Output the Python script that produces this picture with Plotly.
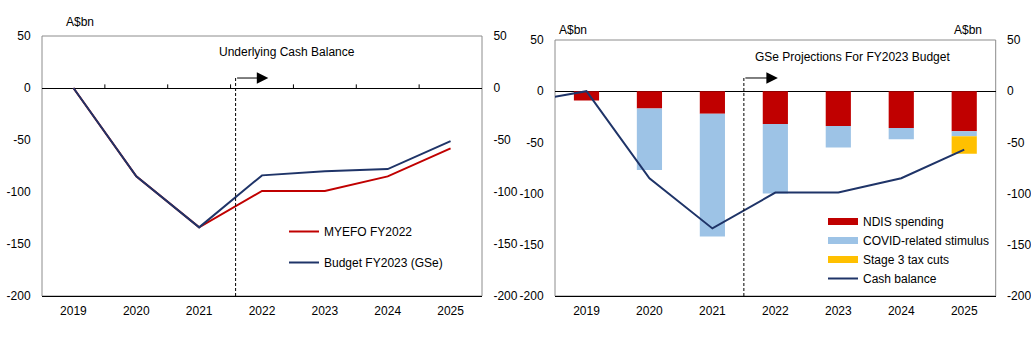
import plotly.graph_objects as go

# ---------------- data ----------------
years = [2019, 2020, 2021, 2022, 2023, 2024, 2025]
myefo_fy2022 = [0, -85, -134, -99, -99, -85, -58]
budget_fy2023 = [0, -85, -134, -84, -80, -78, -51]

cash_years = [2018, 2019, 2020, 2021, 2022, 2023, 2024, 2025]
cash_balance = [-11, 0, -85, -134, -99, -99, -85, -57]
ndis = [-9, -17, -22, -32, -34, -36, -39]
covid = [0, -60, -120, -68, -21, -11, -5]
stage3 = [0, 0, 0, 0, 0, 0, -17]

y_ticks = [50, 0, -50, -100, -150, -200]
y_tick_labels = ["50", "0", "-50", "-100", "-150", "-200"]

# ---------------- styling ----------------
W, H = 1031, 347
FONT = "Liberation Sans, Arial, sans-serif"
RED = "#C00000"
NAVY = "#1F3468"
LBLUE = "#9DC3E6"
GOLD = "#FFC000"
GREY = "#8C8C8C"


def px(xp):
    return xp / W


def py(yp):
    return 1 - yp / H


fig = go.Figure()

# left chart
fig.add_trace(go.Scatter(x=years, y=myefo_fy2022, mode="lines", name="MYEFO FY2022",
                         line=dict(color=RED, width=2), xaxis="x", yaxis="y",
                         legend="legend", legendgroup="a"))
fig.add_trace(go.Scatter(x=years, y=budget_fy2023, mode="lines", name="Budget FY2023 (GSe)",
                         line=dict(color=NAVY, width=2), xaxis="x", yaxis="y",
                         legend="legend", legendgroup="b"))

# right chart bars
fig.add_trace(go.Bar(x=years, y=ndis, name="NDIS spending", marker=dict(color=RED, line=dict(width=0)),
                     xaxis="x2", yaxis="y2", showlegend=False))
fig.add_trace(go.Bar(x=years, y=covid, name="COVID-related stimulus", marker=dict(color=LBLUE, line=dict(width=0)),
                     xaxis="x2", yaxis="y2", showlegend=False))
fig.add_trace(go.Bar(x=years, y=stage3, name="Stage 3 tax cuts", marker=dict(color=GOLD, line=dict(width=0)),
                     xaxis="x2", yaxis="y2", showlegend=False))
fig.add_trace(go.Scatter(x=cash_years, y=cash_balance, mode="lines", name="Cash balance",
                         line=dict(color=NAVY, width=2), xaxis="x2", yaxis="y2", showlegend=False))

# legend entries (wide swatches like the original)
for nm, col, w in [("NDIS spending", RED, 7), ("COVID-related stimulus", LBLUE, 7),
                   ("Stage 3 tax cuts", GOLD, 7), ("Cash balance", NAVY, 2)]:
    fig.add_trace(go.Scatter(x=[None], y=[None], mode="lines", name=nm,
                             line=dict(color=col, width=w), xaxis="x2", yaxis="y2",
                             legend="legend2"))

# empty traces so the right-hand mirrored value axes are rendered
for ya, xa in [("y3", "x"), ("y4", "x2")]:
    fig.add_trace(go.Scatter(x=[None], y=[None], mode="lines", xaxis=xa, yaxis=ya,
                             showlegend=False, hoverinfo="skip"))

tickfont = dict(family=FONT, size=12, color="black")

xcommon = dict(range=[2018.5, 2025.5], tickvals=years, ticks="", showgrid=False, zeroline=False,
               showline=True, linecolor="black", linewidth=1, tickfont=tickfont,
               ticklabelstandoff=4, fixedrange=True, automargin=False)
ycommon = dict(range=[-200, 50], tickvals=y_ticks, ticktext=y_tick_labels, showgrid=False,
               tickfont=tickfont, fixedrange=True, automargin=False,
               ticks="outside", ticklen=8, tickcolor="rgba(0,0,0,0)")

fig.update_layout(
    width=W, height=H, margin=dict(l=0, r=0, t=0, b=0, autoexpand=False),
    paper_bgcolor="white", plot_bgcolor="white",
    font=dict(family=FONT, size=12, color="black"),
    barmode="relative", bargap=0.6,
    xaxis=dict(domain=[px(42), px(482)], anchor="y", **xcommon),
    yaxis=dict(domain=[py(296), py(36)], anchor="x", side="left", zeroline=True,
               zerolinecolor="black", zerolinewidth=1, **ycommon),
    yaxis3=dict(overlaying="y", anchor="x", side="right", zeroline=False, **ycommon),
    xaxis2=dict(domain=[px(555), px(995.7)], anchor="y2", **xcommon),
    yaxis2=dict(domain=[py(296), py(40)], anchor="x2", side="left", zeroline=True,
                zerolinecolor="black", zerolinewidth=1, **ycommon),
    yaxis4=dict(overlaying="y2", anchor="x2", side="right", zeroline=False, **ycommon),
    legend=dict(x=px(284), y=py(217), xanchor="left", yanchor="top", bgcolor="rgba(0,0,0,0)",
                font=dict(family=FONT, size=12, color="black"), tracegroupgap=12,
                itemwidth=30, traceorder="grouped"),
    legend2=dict(x=px(823), y=py(207), xanchor="left", yanchor="top", bgcolor="rgba(0,0,0,0)",
                 font=dict(family=FONT, size=12, color="black"), tracegroupgap=0,
                 itemwidth=30, traceorder="normal"),
)

shapes = []
# plot frames
for xr, yr in [("x", "y"), ("x2", "y2")]:
    shapes.append(dict(type="rect", xref=f"{xr} domain", yref=f"{yr} domain", x0=0, x1=1, y0=0, y1=1,
                       line=dict(color=GREY, width=1), layer="below"))
# small tick marks on the left chart's zero line (category boundaries)
for a, b in zip(years[:-1], years[1:]):
    shapes.append(dict(type="line", xref="x", yref="y", x0=(a + b) / 2, x1=(a + b) / 2, y0=0, y1=3.5,
                       line=dict(color="black", width=1)))
# forecast divider lines
shapes.append(dict(type="line", xref="x", yref="y", x0=2021.58, x1=2021.58, y0=-200, y1=9.6,
                   line=dict(color="black", width=1, dash="3px,2px")))
shapes.append(dict(type="line", xref="x2", yref="y2", x0=2021.5, x1=2021.5, y0=-200, y1=12.9,
                   line=dict(color="black", width=1, dash="3px,2px")))
fig.update_layout(shapes=shapes)

ann = []
ann.append(dict(x=2022.1, y=9.6, ax=2021.58, ay=9.6, xref="x", yref="y", axref="x", ayref="y",
                showarrow=True, arrowhead=2, arrowsize=2.3, arrowwidth=1, arrowcolor="black", text=""))
ann.append(dict(x=2022.04, y=12.9, ax=2021.5, ay=12.9, xref="x2", yref="y2", axref="x2", ayref="y2",
                showarrow=True, arrowhead=2, arrowsize=2.3, arrowwidth=1, arrowcolor="black", text=""))
for txt, xx, yy in [("A$bn", 80, 22), ("Underlying Cash Balance", 287, 52),
                    ("A$bn", 573, 30), ("A$bn", 967.7, 30),
                    ("GSe Projections For FY2023 Budget", 852.7, 57)]:
    ann.append(dict(text=txt, x=px(xx), y=py(yy), xref="paper", yref="paper", showarrow=False,
                    xanchor="center", yanchor="middle", font=dict(family=FONT, size=12, color="black")))
fig.update_layout(annotations=ann)

fig.write_html("out.html")
